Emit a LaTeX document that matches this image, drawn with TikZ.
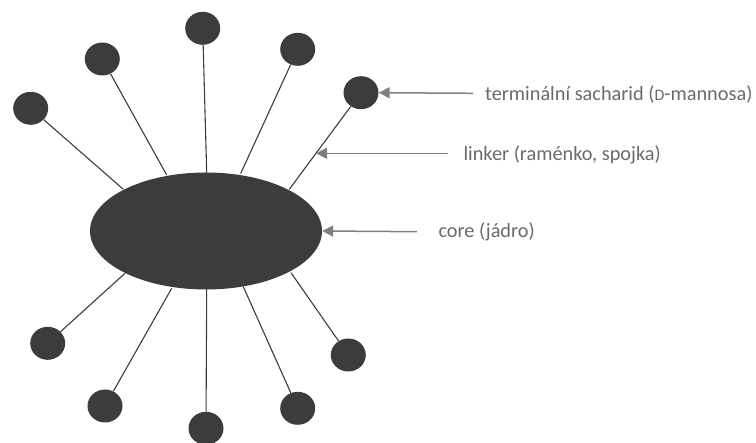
\documentclass[tikz,border=0pt]{standalone}
\usepackage{fontspec}
\setmainfont{Carlito}
\usetikzlibrary{shapes.geometric,arrows.meta}
\definecolor{blob}{HTML}{3C3C3C}
\definecolor{arrowgray}{HTML}{7F7F7F}
\definecolor{textgray}{HTML}{6A6A6A}
\begin{document}
\begin{tikzpicture}[x=1pt,y=-1pt,
  sugar/.style={ellipse, fill=blob, minimum width=35pt, minimum height=33pt, inner sep=0pt},
  corebody/.style={ellipse, fill=blob, minimum width=232pt, minimum height=117pt, inner sep=0pt},
  linkerline/.style={draw=blob, line width=1.1pt},
  pointer/.style={draw=arrowgray, line width=1.5pt, -{Triangle[length=11pt,width=11pt]}},
  lbl/.style={anchor=base west, text=textgray, font=\fontsize{20.3}{24}\selectfont, inner sep=0pt}
]
\useasboundingbox (0,0) rectangle (756,443);
% core
\node[corebody] (core) at (206,231) {};
% terminal sugars
\node[sugar] (c1) at (202.7,28.3) {};
\node[sugar] (c2) at (102.3,59) {};
\node[sugar] (c3) at (297.7,49.3) {};
\node[sugar] (c4) at (30.7,108.3) {};
\node[sugar] (c5) at (361,92.7) {};
\node[sugar] (c6) at (47.7,343.3) {};
\node[sugar] (c7) at (105,406) {};
\node[sugar] (c8) at (206,428.3) {};
\node[sugar] (c9) at (297.7,408.3) {};
\node[sugar] (c10) at (348.3,355) {};
% linker ends on core
\coordinate (e1) at (206.7,172.5);
\coordinate (e2) at (166.7,175);
\coordinate (e3) at (240.7,173.5);
\coordinate (e4) at (123.3,189.3);
\coordinate (e5) at (289.3,189.3);
\coordinate (e6) at (125,273.3);
\coordinate (e7) at (171.7,288.3);
\coordinate (e8) at (206.7,289);
\coordinate (e9) at (243.3,286.7);
\coordinate (e10) at (291,272.7);
\foreach \i in {1,...,10} {\draw[linkerline] (c\i) -- (e\i);}
% labels
\node[lbl] (tsug) at (485,101) {terminální sacharid ({\fontsize{16}{18}\selectfont D}-mannosa)};
\node[lbl] (tlink) at (463.3,160.5) {linker (raménko, spojka)};
\node[lbl] (tcore) at (438.3,237.5) {core (jádro)};
% arrows
\coordinate (s1) at (473,93.3);
\coordinate (s2) at (448,153.3);
\coordinate (s3) at (417,231.7);
\coordinate (lk) at (316,153.3);
\draw[pointer] (s1) -- (c5.east);
\draw[pointer] (s2) -- (lk);
\draw[pointer] (s3) -- (core.east);
\end{tikzpicture}
\end{document}
